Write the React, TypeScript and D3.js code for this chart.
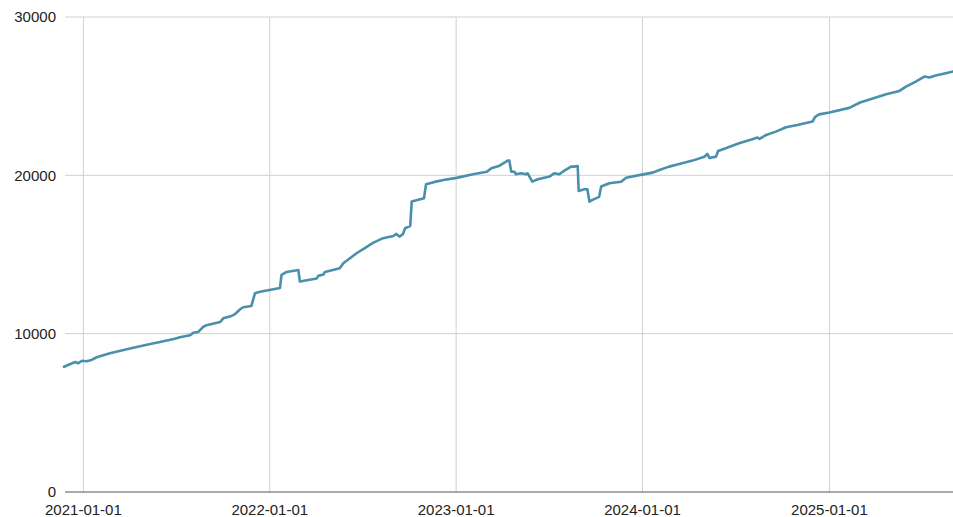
import React from "react";
import * as d3 from "d3";

const dates: string[] = [
  "2020-11-24","2020-12-16","2020-12-22","2020-12-29","2021-01-07","2021-01-17","2021-01-27","2021-02-22","2021-03-27","2021-05-05",
  "2021-05-31","2021-06-29","2021-07-09","2021-07-29","2021-08-04","2021-08-14","2021-08-24","2021-08-30","2021-09-26","2021-10-02",
  "2021-10-18","2021-10-25","2021-11-04","2021-11-10","2021-11-26","2021-12-03","2021-12-13","2022-01-21","2022-01-24","2022-02-03",
  "2022-02-26","2022-03-01","2022-04-03","2022-04-06","2022-04-16","2022-04-19","2022-05-18","2022-05-25","2022-06-07","2022-06-20",
  "2022-07-06","2022-07-23","2022-08-11","2022-08-31","2022-09-06","2022-09-12","2022-09-19","2022-09-23","2022-10-03","2022-10-06",
  "2022-10-30","2022-11-03","2022-11-18","2022-12-07","2023-01-02","2023-02-03","2023-03-02","2023-03-11","2023-03-27","2023-04-12",
  "2023-04-15","2023-04-19","2023-04-25","2023-04-28","2023-05-08","2023-05-18","2023-05-21","2023-05-30","2023-06-10","2023-07-03",
  "2023-07-12","2023-07-22","2023-08-01","2023-08-14","2023-08-20","2023-08-27","2023-08-29","2023-09-09","2023-09-15","2023-09-19",
  "2023-09-25","2023-10-08","2023-10-12","2023-10-28","2023-11-20","2023-11-30","2023-12-28","2024-01-21","2024-02-03","2024-02-22",
  "2024-03-13","2024-04-08","2024-05-01","2024-05-07","2024-05-11","2024-05-24","2024-05-28","2024-06-12","2024-07-08","2024-08-03",
  "2024-08-13","2024-08-17","2024-08-30","2024-09-18","2024-10-08","2024-10-30","2024-11-29","2024-12-04","2024-12-12","2025-01-01",
  "2025-02-09","2025-03-02","2025-04-02","2025-04-22","2025-05-18","2025-05-31","2025-06-19","2025-07-06","2025-07-16","2025-07-28",
  "2025-08-17","2025-08-31"
];

const values: number[] = [
  7910,8210,8130,8290,8260,8340,8510,8760,9010,9300,
  9480,9680,9770,9900,10060,10110,10440,10530,10740,10970,
  11120,11240,11540,11670,11750,12550,12650,12890,13710,13900,
  14020,13290,13490,13650,13730,13900,14130,14450,14760,15080,
  15400,15750,16030,16170,16300,16130,16300,16660,16800,18340,
  18550,19430,19570,19710,19840,20070,20230,20450,20610,20930,
  20930,20230,20230,20070,20130,20070,20130,19600,19750,19920,
  20130,20070,20300,20550,20550,20590,19010,19120,19120,18340,
  18450,18640,19290,19500,19600,19850,20030,20170,20340,20550,
  20720,20930,21180,21350,21100,21180,21540,21710,22030,22280,
  22390,22300,22550,22760,23040,23180,23400,23690,23850,23970,
  24260,24600,24910,25120,25330,25600,25920,26240,26180,26300,
  26450,26560
];

const yTicks: number[] = [0, 10000, 20000, 30000];
const xTickLabels: string[] = ["2021-01-01", "2022-01-01", "2023-01-01", "2024-01-01", "2025-01-01"];
const xDomain: string[] = ["2020-11-26", "2025-08-31"];

const W = 953;
const H = 517;
const M = { left: 65, right: 0, top: 17, bottom: 25 };

export default function App() {
  const parse = d3.utcParse("%Y-%m-%d");
  const data = dates.map((d, i) => ({ date: parse(d) as Date, value: values[i] }));
  const x = d3
    .scaleUtc()
    .domain([parse(xDomain[0]) as Date, parse(xDomain[1]) as Date])
    .range([M.left, W - M.right]);
  const y = d3.scaleLinear().domain([0, 30000]).range([H - M.bottom, M.top]);
  const line = d3
    .line<{ date: Date; value: number }>()
    .x((d) => x(d.date))
    .y((d) => y(d.value));

  const font = "'Liberation Sans', Arial, Helvetica, sans-serif";

  return (
    <div style={{ position: "fixed", left: 0, top: 0 }}>
      <svg width={W} height={H} style={{ display: "block", background: "#fff" }}>
        {xTickLabels.map((t) => {
          const xx = x(parse(t) as Date);
          return (
            <line key={"vx" + t} x1={xx} x2={xx} y1={M.top} y2={H - M.bottom} stroke="#d0d0d0" strokeWidth={1} />
          );
        })}
        {yTicks.map((t) => (
          <line
            key={"hy" + t}
            x1={M.left}
            x2={W - M.right}
            y1={y(t)}
            y2={y(t)}
            stroke={t === 0 ? "#555" : "#d0d0d0"}
            strokeWidth={t === 0 ? 1.2 : 1}
          />
        ))}
        {yTicks.map((t) => (
          <text
            key={"yl" + t}
            x={56}
            y={y(t)}
            dy="0.35em"
            textAnchor="end"
            fontFamily={font}
            fontSize={15}
            fill="#222"
          >
            {t}
          </text>
        ))}
        {xTickLabels.map((t) => (
          <text
            key={"xl" + t}
            x={x(parse(t) as Date)}
            y={515}
            textAnchor="middle"
            fontFamily={font}
            fontSize={15}
            fill="#222"
          >
            {t}
          </text>
        ))}
        <path
          d={line(data) || ""}
          fill="none"
          stroke="#4a8fab"
          strokeWidth={2.6}
          strokeLinejoin="round"
          strokeLinecap="round"
        />
      </svg>
    </div>
  );
}
